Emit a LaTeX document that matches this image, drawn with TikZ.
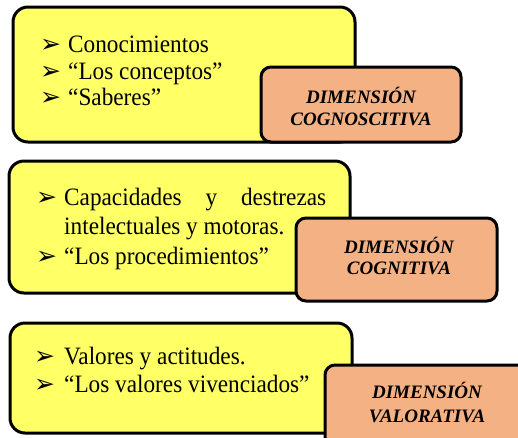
\documentclass[tikz,border=0pt]{standalone}
\usepackage{fontspec}
\setmainfont{Liberation Serif}
\newfontfamily\itemfont[FakeStretch=0.93]{Liberation Serif}
\newfontfamily\dejavu{DejaVu Sans}
\definecolor{yfill}{RGB}{255,255,102}
\definecolor{ofill}{RGB}{244,177,131}
\tikzset{
  ybox/.style={draw=black, line width=3pt, fill=yfill, rounded corners=15pt},
  obox/.style={draw=black, line width=3pt, fill=ofill, rounded corners=10pt},
  itemtxt/.style={anchor=base west, inner sep=0pt, font=\itemfont\fontsize{25}{28}\selectfont},
  bul/.style={anchor=base west, inner sep=0pt, font=\dejavu\fontsize{25}{28}\selectfont},
  dimtxt/.style={anchor=base, inner sep=0pt, font=\bfseries\itshape\fontsize{19}{22}\selectfont},
}
\begin{document}
\begin{tikzpicture}[x=1pt,y=-1pt]
\useasboundingbox (0,0) rectangle (518,437);
\clip (0,0) rectangle (518,437);
% box 1
\path[ybox] (13,7) rectangle (355,142);
\path[obox] (261,67) rectangle (461,142);
\node[bul] (b11) at (40,52) {➢};
\node[itemtxt] (t11) at (68,52) {Conocimientos};
\node[bul] (b12) at (40,79) {➢};
\node[itemtxt] (t12) at (68,79) {“Los conceptos”};
\node[bul] (b13) at (40,105) {➢};
\node[itemtxt] (t13) at (68,105) {“Saberes”};
\node[dimtxt] (d11) at (361,103) {DIMENSIÓN};
\node[dimtxt] (d12) at (361,125) {COGNOSCITIVA};
% box 2
\path[ybox] (9,161) rectangle (350,293);
\path[obox] (296,218) rectangle (497,301);
\node[bul] (b21) at (36,205) {➢};
\node[itemtxt] (t21) at (64,205) {\makebox[262pt][s]{Capacidades y destrezas}};
\node[itemtxt] (t22) at (64,234) {intelectuales y motoras.};
\node[bul] (b23) at (36,264) {➢};
\node[itemtxt] (t23) at (64,264) {“Los procedimientos”};
\node[dimtxt] (d21) at (399,253) {DIMENSIÓN};
\node[dimtxt] (d22) at (399,274) {COGNITIVA};
% box 3
\path[ybox] (10,323) rectangle (352,433);
\path[obox] (325,365) rectangle (530,450);
\node[bul] (b31) at (34,364) {➢};
\node[itemtxt] (t31) at (64,364) {Valores y actitudes.};
\node[bul] (b32) at (34,392) {➢};
\node[itemtxt] (t32) at (64,392) {“Los valores vivenciados”};
\node[dimtxt] (d31) at (427,398) {DIMENSIÓN};
\node[dimtxt] (d32) at (427,422) {VALORATIVA};
\end{tikzpicture}
\end{document}
